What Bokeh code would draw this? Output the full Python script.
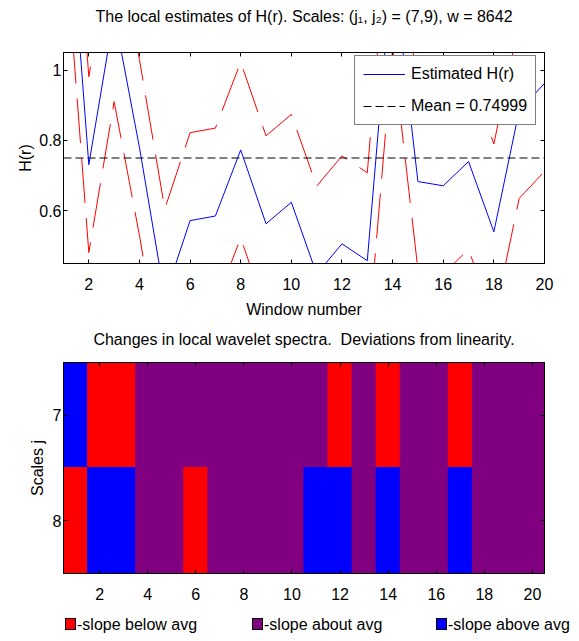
from bokeh.plotting import figure
from bokeh.models import (LinearAxis, FixedTicker, Range1d, Legend, LegendItem,
                          ColumnDataSource, Div)
from bokeh.layouts import column
from bokeh.embed import file_html
from bokeh.resources import INLINE

# ---------------- data ----------------
window = list(range(1, 21))
h_est = [1.68, 0.731, 1.16, 0.78, 0.355, 0.572, 0.585, 0.773, 0.563, 0.624,
         0.42, 0.506, 0.458, 1.31, 0.683, 0.671, 0.740, 0.54, 0.885, 0.962]
h_upper = [1.93, 0.981, 1.41, 1.03, 0.605, 0.822, 0.835, 1.023, 0.813, 0.874,
           0.67, 0.756, 0.708, 1.56, 0.933, 0.921, 0.99, 0.79, 1.135, 1.212]
h_lower = [1.43, 0.481, 0.91, 0.53, 0.105, 0.322, 0.335, 0.523, 0.313, 0.374,
           0.17, 0.256, 0.208, 1.06, 0.433, 0.421, 0.49, 0.29, 0.635, 0.712]
mean_h = 0.74999

x_ticks = [2, 4, 6, 8, 10, 12, 14, 16, 18, 20]
h_ticks = [0.6, 0.8, 1.0]
h_tick_labels = {0.6: "0.6", 0.8: "0.8", 1.0: "1"}

scales = [7, 8]
slope_j7 = ["above", "below", "below", "about", "about", "about", "about", "about",
            "about", "about", "about", "below", "about", "below", "about", "about",
            "below", "about", "about", "about"]
slope_j8 = ["below", "above", "above", "about", "about", "below", "about", "about",
            "about", "about", "above", "above", "about", "above", "about", "about",
            "above", "about", "about", "about"]
categories = ["below", "about", "above"]
category_labels = ["-slope below avg", "-slope about avg", "-slope above avg"]
category_colors = {"below": "#ff0000", "about": "#800080", "above": "#0000ff"}

title_top = "The local estimates of H(r). Scales: (j\u2081, j\u2082) = (7,9), w = 8642"
title_bottom = "Changes in local wavelet spectra.\u00a0 Deviations from linearity."

FONT = "Liberation Sans"
FS = "16px"
FRAME_W, FRAME_H = 481, 211


def style_axis(ax, ticks, show_labels=True, overrides=None):
    ax.ticker = FixedTicker(ticks=ticks)
    ax.major_tick_in = 4
    ax.major_tick_out = 0
    ax.minor_tick_line_color = None
    ax.axis_line_color = "black"
    ax.major_tick_line_color = "black"
    ax.major_label_text_font = FONT
    if show_labels:
        ax.major_label_text_font_size = FS
        ax.major_label_text_color = "black"
    else:
        ax.major_label_text_font_size = "0px"
        ax.major_label_text_color = None
        ax.major_label_standoff = 0
    ax.axis_label_text_font = FONT
    ax.axis_label_text_font_size = FS
    ax.axis_label_text_font_style = "normal"
    ax.axis_label_text_color = "black"
    if overrides:
        ax.major_label_overrides = overrides


# ---------------- top plot ----------------
p1 = figure(frame_width=FRAME_W, frame_height=FRAME_H, output_backend="svg",
            toolbar_location=None, x_range=Range1d(1, 20), y_range=Range1d(0.45, 1.05),
            min_border_left=63, min_border_right=35, min_border_top=52,
            min_border_bottom=64)
p1.grid.visible = False
p1.outline_line_color = "black"

r_up = p1.line(window, h_upper, line_color="red", line_width=1, line_dash="45 15")
r_lo = p1.line(window, h_lower, line_color="red", line_width=1, line_dash="45 15")
r_h = p1.line(window, h_est, line_color="blue", line_width=1)
r_mean = p1.line([window[0], window[-1]], [mean_h, mean_h], line_color="black",
                 line_width=1, line_dash="8 4")

style_axis(p1.xaxis[0], x_ticks)
p1.xaxis[0].axis_label = "Window number"
p1.xaxis[0].major_label_standoff = 14
p1.xaxis[0].axis_label_standoff = 8
style_axis(p1.yaxis[0], h_ticks, overrides=h_tick_labels)
p1.yaxis[0].axis_label = "H(r)"
p1.yaxis[0].major_label_standoff = 2
p1.yaxis[0].axis_label_standoff = 2

# top axis: ticks pointing in, and it carries the chart title
ax_top = LinearAxis()
style_axis(ax_top, x_ticks, show_labels=False)
ax_top.axis_label = title_top
ax_top.axis_label_standoff = 28
p1.add_layout(ax_top, "above")
ax_right = LinearAxis()
style_axis(ax_right, h_ticks, show_labels=False)
p1.add_layout(ax_right, "right")

legend = Legend(items=[LegendItem(label="Estimated H(r)", renderers=[r_h]),
                       LegendItem(label="Mean = " + str(mean_h), renderers=[r_mean])],
                location=(291, 138))
legend.border_line_color = "black"
legend.border_line_width = 1
legend.background_fill_color = "white"
legend.background_fill_alpha = 1
legend.label_text_font = FONT
legend.label_text_font_size = FS
legend.label_text_color = "black"
legend.glyph_width = 42
legend.glyph_height = 20
legend.label_height = 20
legend.padding = 8
legend.spacing = 12
legend.label_standoff = 6
legend.margin = 0
p1.add_layout(legend)

# ---------------- heat map ----------------
p2 = figure(frame_width=FRAME_W, frame_height=FRAME_H, output_backend="svg",
            toolbar_location=None, x_range=Range1d(0.5, 20.5), y_range=Range1d(8.5, 6.5),
            min_border_left=63, min_border_right=35, min_border_top=35,
            min_border_bottom=40)
p2.grid.visible = False
p2.outline_line_color = "black"

cx, cy, cc = [], [], []
for s, row in zip(scales, [slope_j7, slope_j8]):
    for w, c in zip(window, row):
        cx.append(w)
        cy.append(s)
        cc.append(category_colors[c])
src = ColumnDataSource(dict(x=cx, y=cy, color=cc))
# slightly overlapping cells so that no seams show between neighbours
p2.rect(x="x", y="y", width=1.04, height=1.02, fill_color="color", line_color=None,
        source=src)

style_axis(p2.xaxis[0], x_ticks)
p2.xaxis[0].major_label_standoff = 14
style_axis(p2.yaxis[0], scales)
p2.yaxis[0].axis_label = "Scales j"
p2.yaxis[0].major_label_standoff = 2
p2.yaxis[0].axis_label_standoff = 4
ax_top2 = LinearAxis()
style_axis(ax_top2, x_ticks, show_labels=False)
ax_top2.axis_label = title_bottom
ax_top2.axis_label_standoff = 15
p2.add_layout(ax_top2, "above")
ax_right2 = LinearAxis()
style_axis(ax_right2, scales, show_labels=False)
p2.add_layout(ax_right2, "right")

# ---------------- colour key ----------------
key_left = [65, 252, 436]
parts = ['<div style="position:relative;width:579px;height:28px;'
         "font-family:'Liberation Sans',Arial,sans-serif;font-size:16px;color:#000;\">"]
for left, c, lab in zip(key_left, categories, category_labels):
    parts.append('<div style="position:absolute;left:%dpx;top:5px;width:11px;height:12px;'
                 'box-sizing:border-box;border:1px solid #000;background:%s;"></div>'
                 % (left, category_colors[c]))
    parts.append('<div style="position:absolute;left:%dpx;top:3px;line-height:18px;'
                 'white-space:nowrap;">%s</div>' % (left + 12, lab))
parts.append("</div>")
key = Div(text="".join(parts), width=579, height=28, margin=(0, 0, 0, 0))

open("out.html", "w").write(file_html(column(p1, p2, key, spacing=0), INLINE))
